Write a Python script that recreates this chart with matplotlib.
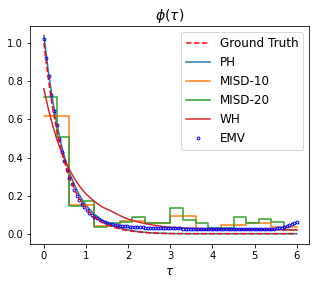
import numpy as np
import matplotlib
matplotlib.use("Agg")
import matplotlib.pyplot as plt

# ---------------- data ----------------
gt_tau = [0.0, 0.1, 0.2, 0.3, 0.4, 0.5, 0.6, 0.7, 0.8, 0.9, 1.0, 1.1, 1.2, 1.3, 1.4,
          1.5, 1.6, 1.7, 1.8, 1.9, 2.0, 2.2, 2.4, 2.6, 2.8, 3.0, 3.5, 4.0, 5.0, 6.0]
gt_val = [1.0, 0.82, 0.67, 0.55, 0.45, 0.37, 0.30, 0.25, 0.20, 0.165, 0.135, 0.11, 0.09,
          0.074, 0.061, 0.05, 0.041, 0.033, 0.027, 0.022, 0.018, 0.012, 0.008, 0.0055,
          0.0037, 0.0025, 0.002, 0.002, 0.002, 0.002]

ph_tau = gt_tau
ph_val = [1.04, 0.86, 0.71, 0.585, 0.48, 0.395, 0.325, 0.27, 0.222, 0.183, 0.152, 0.126,
          0.104, 0.086, 0.07, 0.058, 0.048, 0.039, 0.032, 0.026, 0.021, 0.014, 0.009,
          0.006, 0.004, 0.003, 0.002, 0.002, 0.002, 0.002]

wh_tau = [0.0, 0.1, 0.2, 0.3, 0.4, 0.5, 0.6, 0.7, 0.8, 0.9, 1.0, 1.1, 1.2, 1.4, 1.6,
          1.8, 2.0, 2.2, 2.4, 2.6, 2.8, 3.0, 3.5, 4.0, 5.0, 6.0]
wh_val = [0.76, 0.66, 0.575, 0.50, 0.44, 0.385, 0.34, 0.30, 0.265, 0.235, 0.21, 0.19,
          0.17, 0.14, 0.12, 0.097, 0.078, 0.065, 0.055, 0.047, 0.04, 0.035, 0.03, 0.027,
          0.024, 0.022]

misd10_edges = [0.0, 0.6, 1.2, 1.8, 2.4, 3.0, 3.6, 4.2, 4.8, 5.4, 6.0]
misd10_val = [0.62, 0.15, 0.043, 0.07, 0.057, 0.092, 0.022, 0.045, 0.057, 0.037]

misd20_edges = [0.0, 0.3, 0.6, 0.9, 1.2, 1.5, 1.8, 2.1, 2.4, 2.7, 3.0, 3.3, 3.6, 3.9,
                4.2, 4.5, 4.8, 5.1, 5.4, 5.7, 6.0]
misd20_val = [0.715, 0.51, 0.145, 0.175, 0.035, 0.06, 0.063, 0.088, 0.057, 0.057, 0.139,
              0.071, 0.057, 0.031, 0.031, 0.089, 0.057, 0.078, 0.063, 0.019]

emv_tau = np.linspace(0, 6, 101)
emv_val = [1.02, 0.92, 0.825, 0.73, 0.645, 0.57, 0.495, 0.43, 0.38, 0.335,
           0.295, 0.26, 0.23, 0.20, 0.178, 0.158, 0.14, 0.125, 0.112, 0.10,
           0.09, 0.082, 0.075, 0.069, 0.064, 0.059, 0.055, 0.052, 0.049, 0.046,
           0.044, 0.042, 0.041, 0.040, 0.039, 0.038, 0.037, 0.036, 0.035, 0.035,
           0.034, 0.034, 0.033, 0.033, 0.032, 0.032, 0.032, 0.031, 0.031, 0.031,
           0.030, 0.030, 0.030, 0.030, 0.030, 0.029, 0.029, 0.029, 0.029, 0.029,
           0.029, 0.029, 0.029, 0.029, 0.029, 0.029, 0.029, 0.029, 0.029, 0.029,
           0.029, 0.029, 0.029, 0.029, 0.029, 0.029, 0.029, 0.029, 0.029, 0.029,
           0.029, 0.029, 0.029, 0.029, 0.029, 0.029, 0.029, 0.029, 0.029, 0.029,
           0.029, 0.029, 0.030, 0.031, 0.033, 0.036, 0.040, 0.045, 0.051, 0.058,
           0.065]

# ---------------- plot ----------------
fig = plt.figure(figsize=(319 / 72, 285 / 72), dpi=72)
ax = fig.add_axes([30 / 319, 41 / 285, 279 / 319, 218 / 285])

ax.plot(gt_tau, gt_val, "r--", label="Ground Truth", zorder=3)
ax.plot(ph_tau, ph_val, color="C0", label="PH")
ax.step(misd10_edges, misd10_val + [misd10_val[-1]], where="post", color="C1", label="MISD-10")
ax.step(misd20_edges, misd20_val + [misd20_val[-1]], where="post", color="C2", label="MISD-20")
ax.plot(wh_tau, wh_val, color="C3", label="WH")
ax.plot(emv_tau, emv_val, "o", color="b", markerfacecolor="none", markersize=2.8,
        markeredgewidth=1, label="EMV")

ax.set_xlim(-0.33, 6.29)
ax.set_ylim(-0.052, 1.089)
ax.set_xticks([0, 1, 2, 3, 4, 5, 6])
ax.set_yticks([0.0, 0.2, 0.4, 0.6, 0.8, 1.0])
ax.tick_params(labelsize=10)
ax.set_title(r"$\phi(\tau)$", fontsize=14)
ax.set_xlabel(r"$\tau$", fontsize=12)
ax.legend(loc="upper right", fontsize=12)

fig.savefig("out.png", dpi=72)
